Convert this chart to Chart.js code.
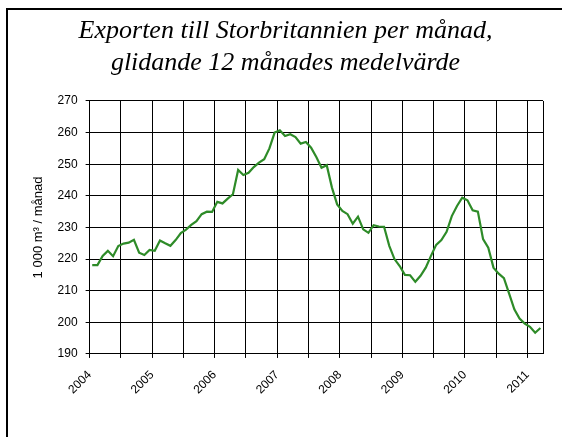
<!DOCTYPE html>
<html>
<head>
<meta charset="utf-8">
<script src="https://cdn.jsdelivr.net/npm/chart.js@4.4.0/dist/chart.umd.min.js"></script>
<style>
    html, body { margin: 0; padding: 0; background: #fff; }
    #wrap { position: relative; width: 566px; height: 437px; overflow: hidden; }
    #myChart { position: absolute; left: 0; top: 0; }
    #frame { position: absolute; left: 6px; top: 8px; width: 554px; height: 440px;
             border-left: 2px solid #000; border-top: 2px solid #000; pointer-events: none; }
</style>
</head>
<body>
<div id="wrap">
    <canvas id="myChart" width="566" height="437"></canvas>
    <div id="frame"></div>
</div>
<script>
// texts
var titleLines = ["Exporten till Storbritannien per månad,", "glidande 12 månades medelvärde"];
var yAxisTitle = "1 000 m³ / månad";

// one label per year, january of each year
var yearLabels = ["2004", "2005", "2006", "2007", "2008", "2009", "2010", "2011"];

// glidande 12 mån medelvärde, jan 2004 - mar 2011 (1 000 m3)
var exportVolume = [
    218.1, 218.1, 221.0, 222.6, 220.9, 224.1, 224.9, 225.2, 226.1, 222.0, 221.3, 222.9, // 2004
    222.6, 225.9, 225.0, 224.2, 226.0, 228.2, 229.3, 230.8, 232.0, 234.2, 235.0, 234.9, // 2005
    238.1, 237.6, 239.1, 240.5, 248.2, 246.6, 247.3, 249.1, 250.5, 251.6, 255.0, 260.0, // 2006
    260.7, 258.9, 259.5, 258.6, 256.5, 257.0, 255.2, 252.3, 248.9, 249.7, 242.6, 237.3, // 2007
    235.2, 234.2, 231.2, 233.4, 229.4, 228.3, 230.7, 230.3, 230.2, 224.2, 220.0, 217.8, // 2008
    215.0, 214.9, 212.8, 214.7, 217.3, 221.0, 224.5, 226.0, 228.6, 233.6, 236.8, 239.4, // 2009
    238.6, 235.4, 235.0, 226.3, 223.6, 217.3, 215.4, 214.0, 209.1, 204.1, 201.2, 199.6, // 2010
    198.6, 196.7, 198.2                                                                 // 2011
];

var yMin = 190;
var yMax = 270;
var yStep = 10;

// each month is plotted in the middle of its slot, like excel does
var points = exportVolume.map(function (v, i) {
    return { x: i + 0.5, y: v };
});
var monthCount = exportVolume.length;

// right edge of the plot frame
var rightBorder = {
    id: "rightBorder",
    afterDraw: function (chart) {
        var a = chart.chartArea;
        var ctx = chart.ctx;
        var x = Math.round(a.right) + 0.5;
        ctx.save();
        ctx.strokeStyle = "#000";
        ctx.lineWidth = 1;
        ctx.beginPath();
        ctx.moveTo(x, a.top);
        ctx.lineTo(x, a.bottom);
        ctx.stroke();
        ctx.restore();
    }
};

var ctx = document.getElementById("myChart").getContext("2d");
window.myChart = new Chart(ctx, {
    type: "line",
    data: {
        datasets: [
            {
                label: "Export",
                data: points,
                borderColor: "#2e8b28",
                borderWidth: 2.2,
                pointRadius: 0,
                fill: false,
                tension: 0
            }
        ]
    },
    options: {
        responsive: false,
        animation: false,
        devicePixelRatio: 1,
        layout: {
            padding: { left: 28, right: 23, top: 0, bottom: 30 }
        },
        plugins: {
            legend: { display: false },
            tooltip: { enabled: false },
            title: {
                display: true,
                text: titleLines,
                color: "#000",
                font: { family: "'Liberation Serif', 'Times New Roman', serif", size: 26, style: "italic", weight: "normal", lineHeight: 1.23 },
                padding: { top: 15, bottom: 22 }
            }
        },
        scales: {
            x: {
                type: "linear",
                min: 0,
                max: monthCount,
                afterBuildTicks: function (scale) {
                    var t = [];
                    for (var m = 0; m < monthCount; m += 6) {
                        t.push({ value: m });
                    }
                    scale.ticks = t;
                },
                ticks: {
                    autoSkip: false,
                    minRotation: 45,
                    maxRotation: 45,
                    padding: 10,
                    color: "#000",
                    font: { family: "'Liberation Sans', Arial, sans-serif", size: 12 },
                    callback: function (value) {
                        if (value % 12 === 0) {
                            return yearLabels[value / 12];
                        }
                        return "";
                    }
                },
                grid: { color: "#000", lineWidth: 1, tickLength: 4 },
                border: { color: "#000", width: 1 }
            },
            y: {
                min: yMin,
                max: yMax,
                ticks: {
                    stepSize: yStep,
                    padding: 8,
                    color: "#000",
                    font: { family: "'Liberation Sans', Arial, sans-serif", size: 12 }
                },
                grid: { color: "#000", lineWidth: 1, tickLength: 4 },
                border: { color: "#000", width: 1 },
                title: {
                    display: true,
                    text: yAxisTitle,
                    color: "#000",
                    font: { family: "'Liberation Sans', Arial, sans-serif", size: 13 },
                    padding: { top: 3, bottom: 3 }
                }
            }
        }
    },
    plugins: [rightBorder]
});
</script>
</body>
</html>
